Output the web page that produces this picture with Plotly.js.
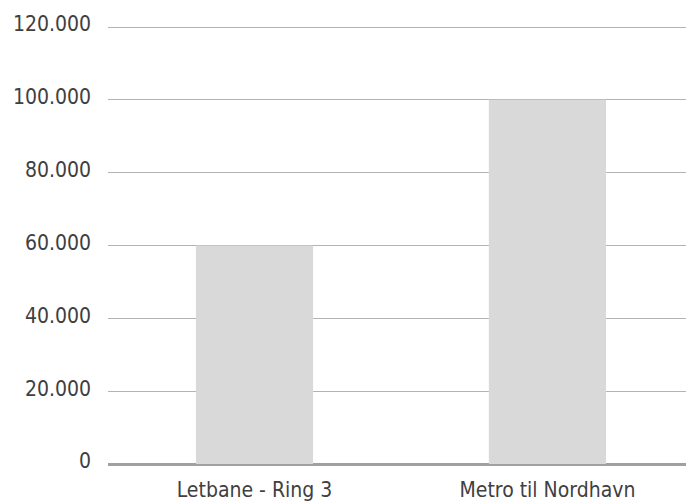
<!DOCTYPE html>
<html>
<head>
<meta charset="utf-8">
<script src="https://cdn.plot.ly/plotly-3.0.1.min.js"></script>
<style>html,body{margin:0;padding:0;overflow:hidden;background:#fff}</style>
</head>
<body>
<div id="chart" style="width:686px;height:502px"></div>
<script>
const categories = ["Letbane - Ring 3", "Metro til Nordhavn"];
const values = [60000, 100000];
const tickValues = [0, 20000, 40000, 60000, 80000, 100000, 120000];
const tickLabels = ["0", "20.000", "40.000", "60.000", "80.000", "100.000", "120.000"];

const font = "DejaVu Sans Condensed, DejaVu Sans, sans-serif";
Plotly.newPlot("chart", [{
  type: "bar",
  x: categories,
  y: values,
  width: 0.4,
  marker: {color: "#d9d9d9", line: {width: 0}},
  hoverinfo: "none"
}], {
  width: 686, height: 502,
  margin: {l: 108, r: 0, t: 25, b: 38, pad: 0},
  paper_bgcolor: "#fff", plot_bgcolor: "#fff",
  showlegend: false,
  font: {family: font, size: 21, color: "#404040"},
  xaxis: {
    type: "category",
    range: [-0.5, 1.473],
    showgrid: false, zeroline: false, showline: false,
    ticks: "", ticklabelstandoff: 11,
    tickfont: {family: font, size: 21, color: "#404040"},
    fixedrange: true
  },
  yaxis: {
    range: [0, 120550],
    tickvals: tickValues, ticktext: tickLabels,
    showgrid: true, gridcolor: "#b3b3b3", gridwidth: 1,
    zeroline: true, zerolinecolor: "#a0a0a0", zerolinewidth: 3,
    showline: false, ticks: "", ticklabelstandoff: 16, ticklabelshift: -3,
    tickfont: {family: font, size: 21, color: "#404040"},
    fixedrange: true
  }
}, {displayModeBar: false, staticPlot: true});
</script>
</body>
</html>
